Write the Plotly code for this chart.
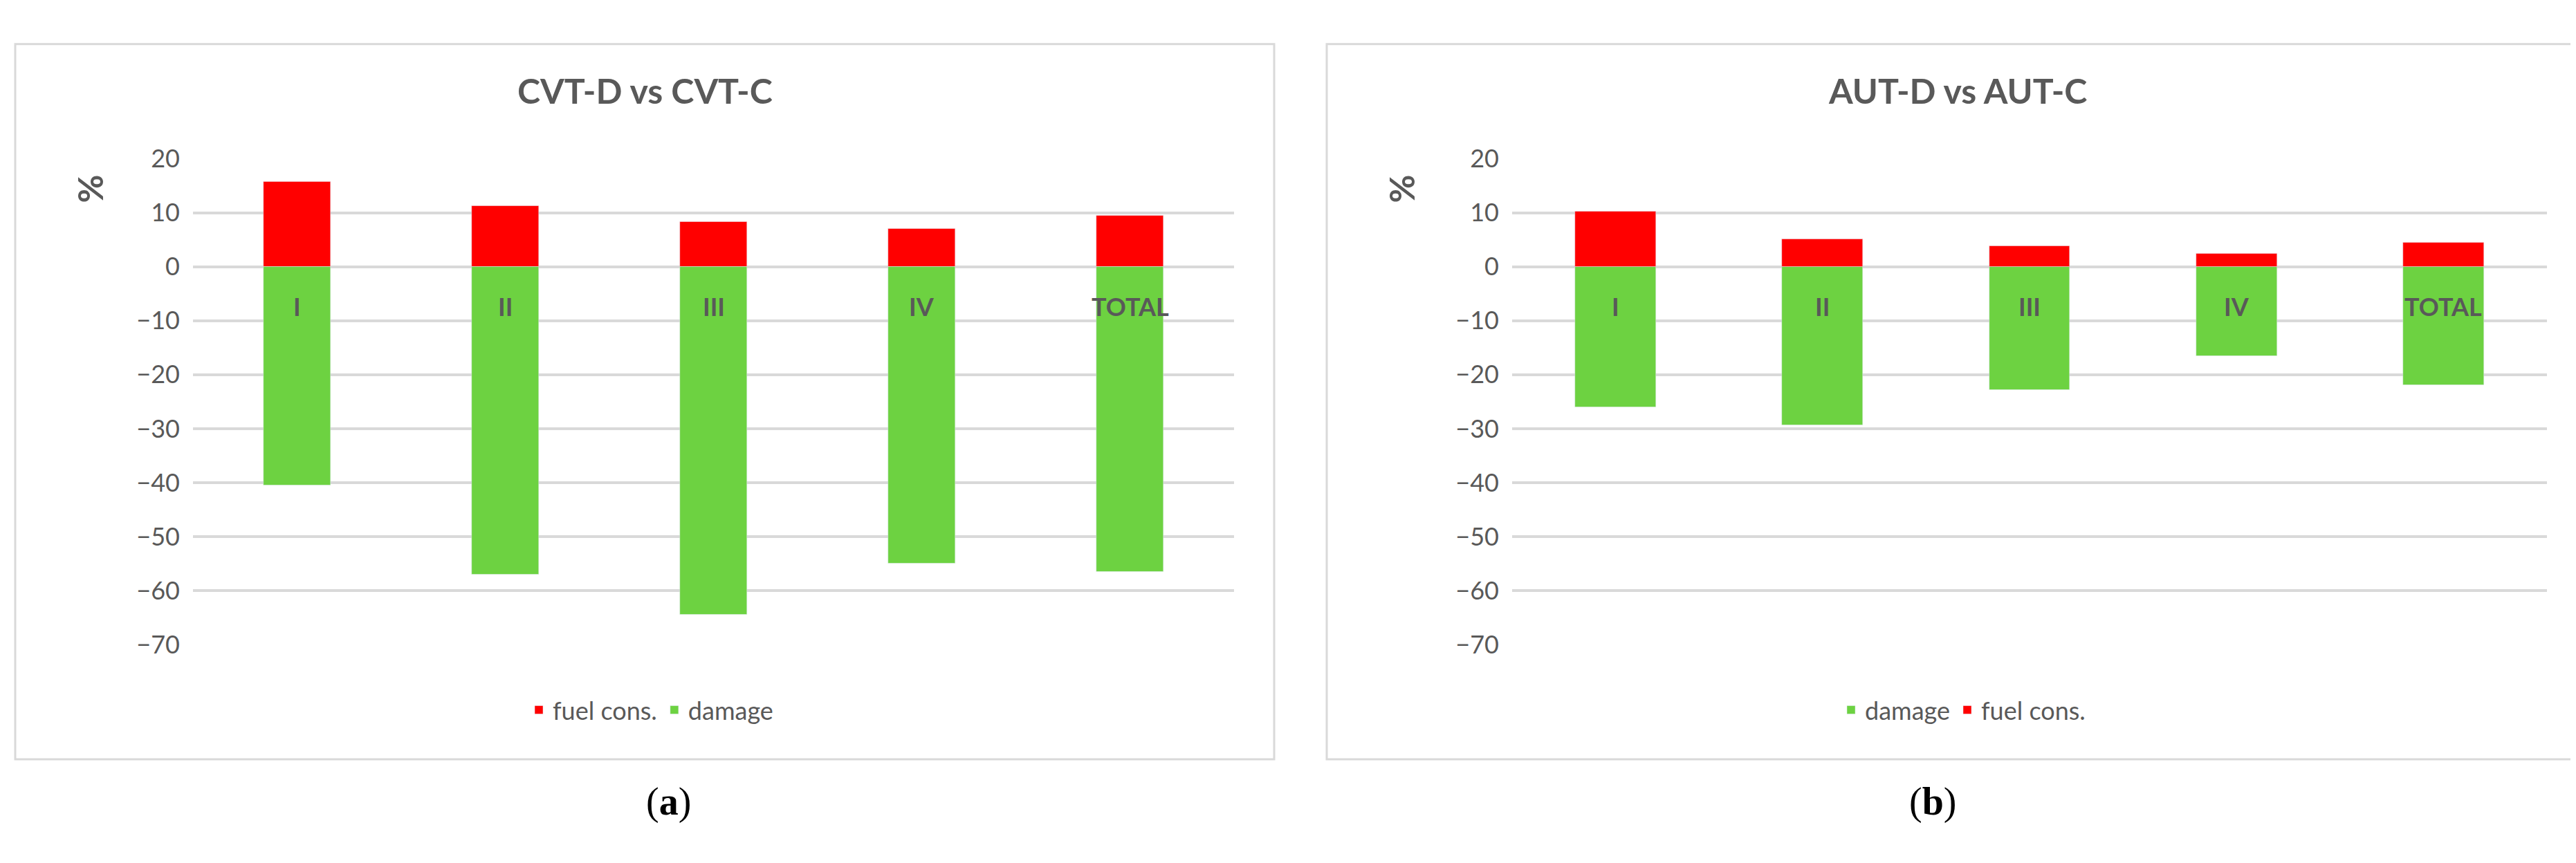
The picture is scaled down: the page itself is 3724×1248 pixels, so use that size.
import plotly.graph_objects as go

categories = ["I", "II", "III", "IV", "TOTAL"]
cvt_fuel = [15.8, 11.3, 8.3, 7.1, 9.5]
cvt_damage = [-40.5, -57.0, -64.5, -55.0, -56.5]
aut_fuel = [10.2, 5.1, 3.9, 2.4, 4.5]
aut_damage = [-26.0, -29.3, -22.8, -16.5, -21.9]
titles = ["CVT-D vs CVT-C", "AUT-D vs AUT-C"]
tickvals = [20, 10, 0, -10, -20, -30, -40, -50, -60, -70]

RED = "#ff0000"
GREEN = "#6dd241"
GRAY = "#595959"
GRID = "#d9d9d9"
FONT = "Lato"

fig = go.Figure()
fig.add_bar(x=categories, y=cvt_fuel, name="fuel cons.", marker_color=RED, width=0.32,
            xaxis="x", yaxis="y", legend="legend")
fig.add_bar(x=categories, y=cvt_damage, name="damage", marker_color=GREEN, width=0.32,
            xaxis="x", yaxis="y", legend="legend")
fig.add_bar(x=categories, y=aut_damage, name="damage", marker_color=GREEN, width=0.39,
            xaxis="x2", yaxis="y2", legend="legend2")
fig.add_bar(x=categories, y=aut_fuel, name="fuel cons.", marker_color=RED, width=0.39,
            xaxis="x2", yaxis="y2", legend="legend2")

ydom = [1 - 934 / 1248, 1 - 206 / 1248]
yax = dict(range=[-70, 20], tickvals=tickvals, showgrid=True, gridcolor=GRID, gridwidth=4,
           zeroline=True, zerolinecolor=GRID, zerolinewidth=4, showline=False,
           tickfont=dict(family=FONT, size=36, color=GRAY), ticks="", ticklabelstandoff=18,
           domain=ydom)
xax = dict(showticklabels=False, showgrid=False, zeroline=False, showline=False,
           range=[-0.5, 4.5])

legfont = dict(family=FONT, size=36, color=GRAY)
fig.update_layout(
    width=3724, height=1248, margin=dict(l=0, r=0, t=0, b=0),
    paper_bgcolor="white", plot_bgcolor="white", barmode="relative", bargap=0,
    xaxis=dict(xax, domain=[271 / 3724, 1776 / 3724], anchor="y"),
    xaxis2=dict(xax, domain=[2178 / 3724, 3674 / 3724], anchor="y2"),
    yaxis=dict(yax, anchor="x"),
    yaxis2=dict(yax, anchor="x2"),
    legend=dict(orientation="h", x=933 / 3724, xanchor="center", y=1 - 1032 / 1248,
                yanchor="middle", font=legfont, traceorder="normal", itemwidth=30,
                entrywidthmode="pixels"),
    legend2=dict(orientation="h", x=2830 / 3724, xanchor="center", y=1 - 1032 / 1248,
                 yanchor="middle", font=legfont, traceorder="normal", itemwidth=30),
    showlegend=True,
)

shapes = []
for x0, x1 in [(14, 1834), (1910, 3720)]:
    shapes.append(dict(type="rect", xref="paper", yref="paper", x0=x0 / 3724, x1=x1 / 3724,
                       y0=1 - 1106 / 1248, y1=1 - 34 / 1248,
                       line=dict(color=GRID, width=3), fillcolor="rgba(0,0,0,0)"))
fig.update_layout(shapes=shapes)

ann = []
for i, (xa, ya) in enumerate([("x", "y"), ("x2", "y2")]):
    ann.append(dict(text=f"<b>{titles[i]}</b>", xref="paper", yref="paper",
                    x=[924, 2822][i] / 3724, y=1 - 104 / 1248, showarrow=False,
                    font=dict(family=FONT, size=50, color=GRAY), xanchor="center",
                    yanchor="middle"))
    ann.append(dict(text="<b>%</b>", xref="paper", yref="paper", textangle=-90,
                    x=[90, 2018][i] / 3724, y=1 - 228 / 1248, showarrow=False,
                    font=dict(family=FONT, size=50, color=GRAY)))
    ann.append(dict(text=["(<b>a</b>)", "(<b>b</b>)"][i], xref="paper", yref="paper",
                    x=[924, 2822][i] / 3724, y=1 - 1204 / 1248, showarrow=False,
                    font=dict(family="Liberation Serif", size=56, color="black")))
    for c in categories:
        ann.append(dict(text=f"<b>{c}</b>", x=c, y=-7.3, xref=xa, yref=ya, showarrow=False,
                        font=dict(family=FONT, size=36, color=GRAY)))
fig.update_layout(annotations=ann)

fig.write_html("out.html")
